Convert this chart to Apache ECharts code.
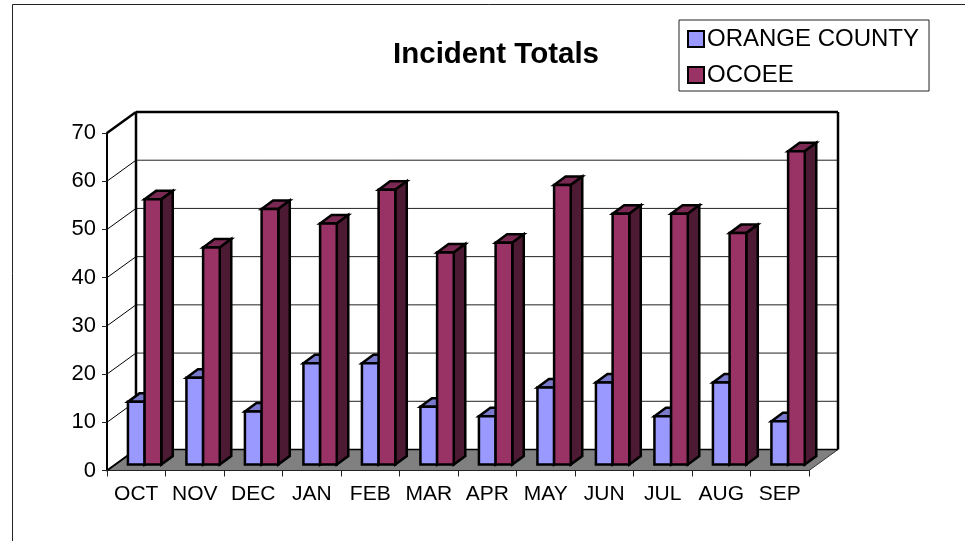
<!DOCTYPE html>
<html>
<head>
<meta charset="utf-8">
<title>Incident Totals</title>
<style>
html, body { margin: 0; padding: 0; background: #fff; }
#main { width: 965px; height: 541px; }
</style>
<script src="https://cdn.jsdelivr.net/npm/echarts@6/dist/echarts.min.js"></script>
</head>
<body>
<div id="main"></div>
<script>
var months = ['OCT', 'NOV', 'DEC', 'JAN', 'FEB', 'MAR', 'APR', 'MAY', 'JUN', 'JUL', 'AUG', 'SEP'];
var orangeCounty = [13, 18, 11, 21, 21, 12, 10, 16, 17, 10, 17, 9];
var ocoee = [55, 45, 53, 50, 57, 44, 46, 58, 52, 52, 48, 65];
var yTicks = [0, 10, 20, 30, 40, 50, 60, 70];

var FONT = '"Liberation Sans", Arial, sans-serif';
// depth of the fake 3d box, and of a bar inside it
var WALL_DX = 29, WALL_DY = 21;
var BAR_DX = 11.5, BAR_DY = 8.5;

var chart = echarts.init(document.getElementById('main'));

function line(x1, y1, x2, y2, width, color) {
    return {
        type: 'line',
        shape: {x1: x1, y1: y1, x2: x2, y2: y2},
        style: {stroke: color || '#000', lineWidth: width}
    };
}

// back wall, side wall and floor, one item only
function renderBox(params, api) {
    var c = params.coordSys;
    var left = c.x, right = c.x + c.width, bottom = c.y + c.height, top = c.y;
    var children = [{
        type: 'polygon',
        shape: {points: [[left, bottom], [left + WALL_DX, bottom - WALL_DY], [right + WALL_DX, bottom - WALL_DY], [right, bottom]]},
        style: {fill: '#808080', stroke: '#333', lineWidth: 1}
    }];
    yTicks.forEach(function (t) {
        if (t === 0 || t === 70) return;
        var y = api.coord([0, t])[1];
        children.push(line(left, y, left + WALL_DX, y - WALL_DY, 1));
        children.push(line(left + WALL_DX, y - WALL_DY, right + WALL_DX, y - WALL_DY, 1, '#222'));
    });
    children.push(line(left, bottom, left + WALL_DX, bottom - WALL_DY, 2));
    children.push(line(left, top, left + WALL_DX, top - WALL_DY, 2.5));
    children.push(line(left + WALL_DX, top - WALL_DY, right + WALL_DX, top - WALL_DY, 2.5));
    children.push(line(left + WALL_DX, top - WALL_DY, left + WALL_DX, bottom - WALL_DY, 2.5));
    children.push(line(right + WALL_DX, top - WALL_DY, right + WALL_DX, bottom - WALL_DY, 2.5));
    children.push(line(left + WALL_DX, bottom - WALL_DY, right + WALL_DX, bottom - WALL_DY, 1.5));
    return {type: 'group', children: children};
}

// one 3d bar: front, top and side faces
function makeBar(slot, front, topColor, sideColor) {
    return function (params, api) {
        var base = api.coord([api.value(0), 0]);
        var head = api.coord([api.value(0), api.value(1)]);
        var band = api.size([1, 0])[0];
        var w = band * 0.285;
        var offX = (WALL_DX - BAR_DX) / 2, offY = (WALL_DY - BAR_DY) / 2 - 0.3;
        var x = base[0] - w + offX - 0.4 + slot * w;
        var y0 = base[1] - offY, y1 = head[1] - offY;
        var border = {stroke: '#000', lineWidth: 2.5, lineJoin: 'miter'};
        return {
            type: 'group',
            children: [{
                type: 'polygon',
                shape: {points: [[x, y1], [x + BAR_DX, y1 - BAR_DY], [x + w + BAR_DX, y1 - BAR_DY], [x + w, y1]]},
                style: Object.assign({fill: topColor}, border)
            }, {
                type: 'polygon',
                shape: {points: [[x + w, y1], [x + w + BAR_DX, y1 - BAR_DY], [x + w + BAR_DX, y0 - BAR_DY], [x + w, y0]]},
                style: Object.assign({fill: sideColor}, border)
            }, {
                type: 'rect',
                shape: {x: x, y: y1, width: w, height: y0 - y1},
                style: Object.assign({fill: front}, border)
            }]
        };
    };
}

function toPoints(values) {
    return values.map(function (v, i) { return [i, v]; });
}

var option = {
    animation: false,
    backgroundColor: '#fff',
    textStyle: {fontFamily: FONT},
    title: {
        text: 'Incident Totals',
        left: 491,
        top: 35,
        textAlign: 'center',
        textStyle: {fontFamily: FONT, fontSize: 29.5, fontWeight: 'bold', color: '#000'}
    },
    legend: {
        data: ['ORANGE COUNTY', 'OCOEE'],
        orient: 'vertical',
        left: 679,
        top: 20,
        padding: [7, 10, 4, 8],
        itemWidth: 16,
        itemHeight: 16,
        itemGap: 12,
        icon: 'rect',
        backgroundColor: '#fff',
        borderColor: '#222',
        borderWidth: 1,
        itemStyle: {borderColor: '#000', borderWidth: 2},
        textStyle: {fontFamily: FONT, fontSize: 24, color: '#000', padding: [0, 0, 0, -2]}
    },
    grid: {left: 107, right: 156, top: 133, bottom: 70.5},
    xAxis: {
        type: 'category',
        data: months,
        z: 5,
        axisLine: {show: true, lineStyle: {color: '#222', width: 1}},
        axisTick: {show: true, length: 6, lineStyle: {color: '#222', width: 1}},
        axisLabel: {fontFamily: FONT, fontSize: 21, color: '#000', margin: 13, interval: 0},
        splitLine: {show: false}
    },
    yAxis: {
        type: 'value',
        min: 0,
        max: 70,
        interval: 10,
        z: 5,
        axisLine: {show: true, lineStyle: {color: '#000', width: 2}},
        axisTick: {show: true, length: 5, lineStyle: {color: '#222'}},
        axisLabel: {fontFamily: FONT, fontSize: 22, color: '#000', margin: 11},
        splitLine: {show: false}
    },
    series: [{
        name: 'box',
        type: 'custom',
        renderItem: renderBox,
        data: [[0, 0]],
        silent: true,
        clip: false
    }, {
        name: 'ORANGE COUNTY',
        type: 'custom',
        renderItem: makeBar(0, '#9999FF', '#7A7ACC', '#4D4D80'),
        itemStyle: {color: '#9999FF'},
        encode: {x: 0, y: 1},
        data: toPoints(orangeCounty),
        clip: false
    }, {
        name: 'OCOEE',
        type: 'custom',
        renderItem: makeBar(1, '#993366', '#7A2952', '#4D1A33'),
        itemStyle: {color: '#993366'},
        encode: {x: 0, y: 1},
        data: toPoints(ocoee),
        clip: false
    }],
    // chart frame runs off the right and bottom of the page
    graphic: [{
        type: 'rect',
        shape: {x: 12.5, y: 4.5, width: 1000, height: 600},
        style: {fill: 'none', stroke: '#222', lineWidth: 1},
        silent: true
    }]
};

chart.setOption(option);
</script>
</body>
</html>
